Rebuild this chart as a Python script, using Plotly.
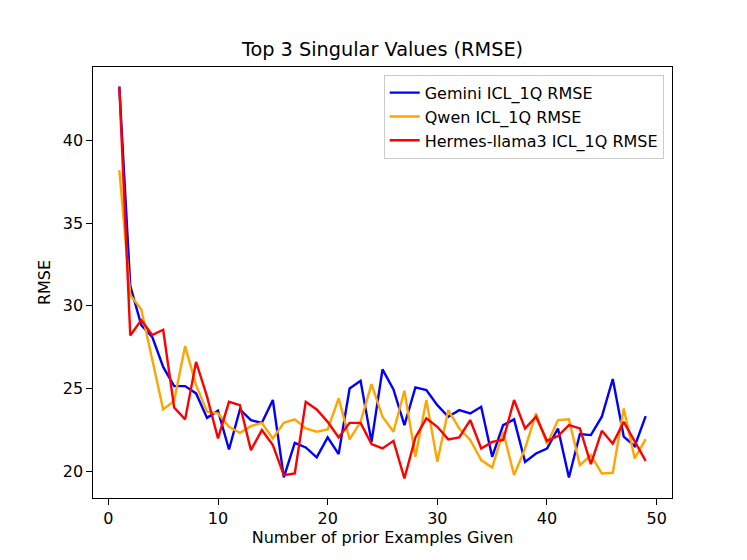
import plotly.graph_objects as go

examples = list(range(1, 50))

gemini_rmse = [43.25, 31.2, 28.83, 28.12, 26.3, 25.14, 25.14, 24.7, 23.22, 23.65,
               21.31, 23.73, 23.08, 22.92, 24.3, 19.62, 21.71, 21.43, 20.83, 22.04,
               21.03, 25.0, 25.46, 21.77, 26.15, 24.94, 22.78, 25.06, 24.9, 23.99,
               23.29, 23.69, 23.49, 23.89, 20.87, 22.78, 23.13, 20.56, 21.07, 21.37,
               22.58, 19.62, 22.24, 22.18, 23.29, 25.57, 22.08, 21.51, 23.33]

qwen_rmse = [38.2, 30.65, 29.78, 26.8, 23.73, 24.25, 27.56, 25.2, 23.59, 23.49,
             22.68, 22.32, 22.72, 22.92, 21.98, 22.92, 23.13, 22.58, 22.38, 22.52,
             24.4, 21.92, 22.98, 25.26, 23.29, 22.38, 24.86, 20.87, 24.3, 20.56,
             23.69, 22.58, 21.88, 20.67, 20.22, 22.38, 19.76, 21.37, 23.49, 21.63,
             23.09, 23.13, 20.36, 20.97, 19.86, 19.9, 23.79, 20.77, 21.94]

hermes_rmse = [43.25, 28.2, 29.13, 28.23, 28.55, 23.85, 23.13, 26.6, 24.5, 21.98,
               24.19, 23.99, 21.27, 22.48, 21.57, 19.76, 19.86, 24.19, 23.73, 22.98,
               22.04, 22.92, 22.92, 21.63, 21.37, 21.83, 19.56, 22.04, 23.19, 22.68,
               21.92, 22.04, 23.09, 21.37, 21.77, 21.88, 24.3, 22.58, 23.29, 21.83,
               22.12, 22.78, 22.58, 20.42, 22.44, 21.67, 22.98, 21.77, 20.62]

series_names = ["Gemini ICL_1Q RMSE", "Qwen ICL_1Q RMSE", "Hermes-llama3 ICL_1Q RMSE"]
series_colors = ["#0000ff", "#ffa500", "#ff0000"]
x_ticks = [0, 10, 20, 30, 40, 50]
y_ticks = [20, 25, 30, 35, 40]

W, H = 747, 560
OFF = 8  # default page body margin
L, R, T, B = 0.125 * W - OFF, 0.1 * W, 0.12 * H - OFF, 0.11 * H
font = "DejaVu Sans"
fs = 16.0

fig = go.Figure()
for name, vals, col in zip(series_names, [gemini_rmse, qwen_rmse, hermes_rmse], series_colors):
    fig.add_trace(go.Scatter(x=examples, y=vals, mode="lines", name=name,
                             line=dict(color=col, width=2.4)))

all_vals = gemini_rmse + qwen_rmse + hermes_rmse
ymin, ymax = min(all_vals), max(all_vals)
ypad = 0.05 * (ymax - ymin)
xpad = 0.05 * (examples[-1] - examples[0])

axis_common = dict(showline=True, linecolor="black", linewidth=1.2, mirror=True,
                   ticks="outside", ticklen=5.5, tickwidth=1.2, tickcolor="black",
                   showgrid=False, zeroline=False,
                   tickfont=dict(family=font, size=fs, color="black"))

fig.update_layout(
    width=W - OFF, height=H - OFF,
    margin=dict(l=L, r=R, t=T, b=B, pad=0),
    paper_bgcolor="white", plot_bgcolor="white",
    font=dict(family=font, size=fs, color="black"),
    title=dict(text="Top 3 Singular Values (RMSE)", x=0.5, xref="paper",
               y=1 - (49 - OFF) / (H - OFF), yref="container", yanchor="middle",
               xanchor="center",
               font=dict(family=font, size=19.3, color="black")),
    xaxis=dict(range=[examples[0] - xpad, examples[-1] + xpad], tickvals=x_ticks,
               title=dict(text="Number of prior Examples Given", standoff=4,
                          font=dict(family=font, size=fs)),
               **axis_common),
    yaxis=dict(range=[ymin - ypad, ymax + ypad], tickvals=y_ticks,
               title=dict(text="RMSE", standoff=8, font=dict(family=font, size=fs)),
               **axis_common),
    legend=dict(x=0.9857, y=0.982, xanchor="right", yanchor="top",
                bgcolor="rgba(255,255,255,0.8)", bordercolor="#cccccc", borderwidth=1,
                font=dict(family=font, size=fs, color="black"),
                tracegroupgap=0, itemwidth=30),
    showlegend=True,
)

fig.write_html("out.html")
